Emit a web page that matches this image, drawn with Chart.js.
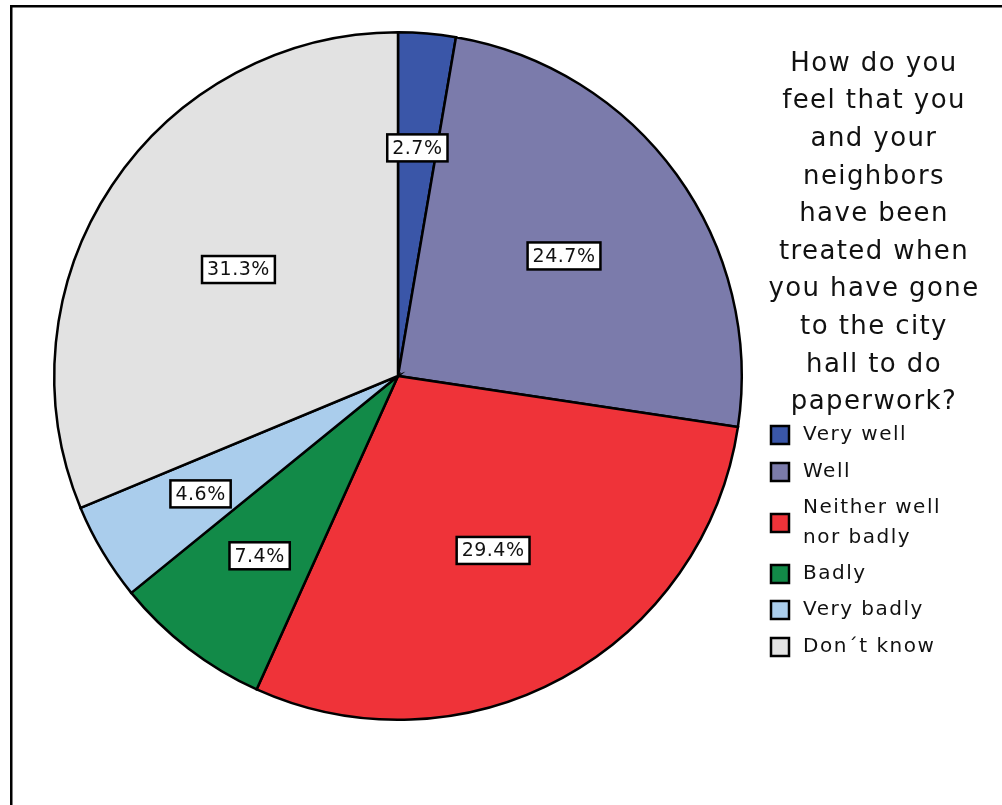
<!DOCTYPE html>
<html>
<head>
<meta charset="utf-8">
<script src="https://cdn.jsdelivr.net/npm/chart.js@4/dist/chart.umd.min.js"></script>
<style>
  html, body { margin: 0; padding: 0; background: #fff; }
  #wrap { position: relative; width: 1002px; height: 805px; }
</style>
</head>
<body>
<div id="wrap"><canvas id="pie" width="1002" height="805"></canvas></div>
<script>
// Survey answers
const categories = ['Very well', 'Well', 'Neither well nor badly', 'Badly', 'Very badly', 'Don\u00b4t know'];
const percents = [2.7, 24.7, 29.4, 7.4, 4.6, 31.3];
const legendLines = [['Very well'], ['Well'], ['Neither well', 'nor badly'], ['Badly'], ['Very badly'], ['Don\u00b4t know']];
const titleLines = ['How do you', 'feel that you', 'and your', 'neighbors', 'have been', 'treated when',
                    'you have gone', 'to the city', 'hall to do', 'paperwork?'];

// styling
const sliceColors = ['#3A56A8', '#7B7BAB', '#EF3339', '#128A48', '#AACDEC', '#E2E2E2'];
const labelRadius = [0.666, 0.596, 0.578, 0.66, 0.669, 0.558]; // label distance as fraction of radius
const FONT = '"DejaVu Sans", Verdana, sans-serif';

const framePlugin = {
    id: 'frame',
    beforeDraw: (chart) => {
        const { ctx } = chart;
        ctx.save();
        ctx.fillStyle = '#fff';
        ctx.fillRect(0, 0, chart.width, chart.height);
        ctx.fillStyle = '#000';
        ctx.fillRect(10, 5, chart.width - 10, 2.5);
        ctx.fillRect(10, 5, 2.5, chart.height - 5);
        ctx.restore();
    }
};

const labelPlugin = {
    id: 'sliceLabels',
    afterDatasetsDraw: (chart) => {
        const { ctx } = chart;
        const arcs = chart.getDatasetMeta(0).data;
        ctx.save();
        ctx.font = '19px ' + FONT;
        ctx.letterSpacing = '0.5px';
        ctx.textAlign = 'center';
        ctx.textBaseline = 'middle';
        arcs.forEach((arc, i) => {
            const mid = (arc.startAngle + arc.endAngle) / 2;
            const r = arc.outerRadius * labelRadius[i];
            const x = arc.x + Math.cos(mid) * r;
            const y = arc.y + Math.sin(mid) * r;
            const txt = percents[i].toFixed(1) + '%';
            const w = ctx.measureText(txt).width + 10;
            const h = 27;
            ctx.fillStyle = '#fff';
            ctx.fillRect(x - w / 2, y - h / 2, w, h);
            ctx.lineWidth = 2.5;
            ctx.strokeStyle = '#000';
            ctx.strokeRect(x - w / 2, y - h / 2, w, h);
            ctx.fillStyle = '#111';
            ctx.fillText(txt, x, y + 1);
        });
        ctx.restore();
    }
};

const legendPlugin = {
    id: 'sideLegend',
    afterDraw: (chart) => {
        const { ctx } = chart;
        ctx.save();
        ctx.textBaseline = 'middle';

        // title
        ctx.font = '26px ' + FONT;
        ctx.letterSpacing = '1.4px';
        ctx.textAlign = 'center';
        ctx.fillStyle = '#111';
        titleLines.forEach((line, i) => ctx.fillText(line, 874, 64 + i * 37.6));

        // items
        ctx.font = '20px ' + FONT;
        ctx.letterSpacing = '1.5px';
        ctx.textAlign = 'left';
        const itemY = [435, 472, 523, 574, 610, 647];
        legendLines.forEach((lines, i) => {
            const cy = itemY[i];
            ctx.fillStyle = sliceColors[i];
            ctx.fillRect(771, cy - 9, 18, 18);
            ctx.lineWidth = 2.5;
            ctx.strokeStyle = '#000';
            ctx.strokeRect(771, cy - 9, 18, 18);
            ctx.fillStyle = '#111';
            const off = (lines.length - 1) * 15;
            lines.forEach((t, j) => ctx.fillText(t, 803, cy - off + j * 30));
        });
        ctx.restore();
    }
};

new Chart(document.getElementById('pie'), {
    type: 'pie',
    data: {
        labels: categories,
        datasets: [{
            data: percents,
            backgroundColor: sliceColors,
            borderColor: '#000',
            borderWidth: 2.5,
            borderJoinStyle: 'miter'
        }]
    },
    options: {
        responsive: false,
        animation: false,
        layout: { padding: { left: 53, top: 31, right: 259, bottom: 84 } },
        plugins: {
            legend: { display: false },
            tooltip: { enabled: false }
        }
    },
    plugins: [framePlugin, labelPlugin, legendPlugin]
});
</script>
</body>
</html>
